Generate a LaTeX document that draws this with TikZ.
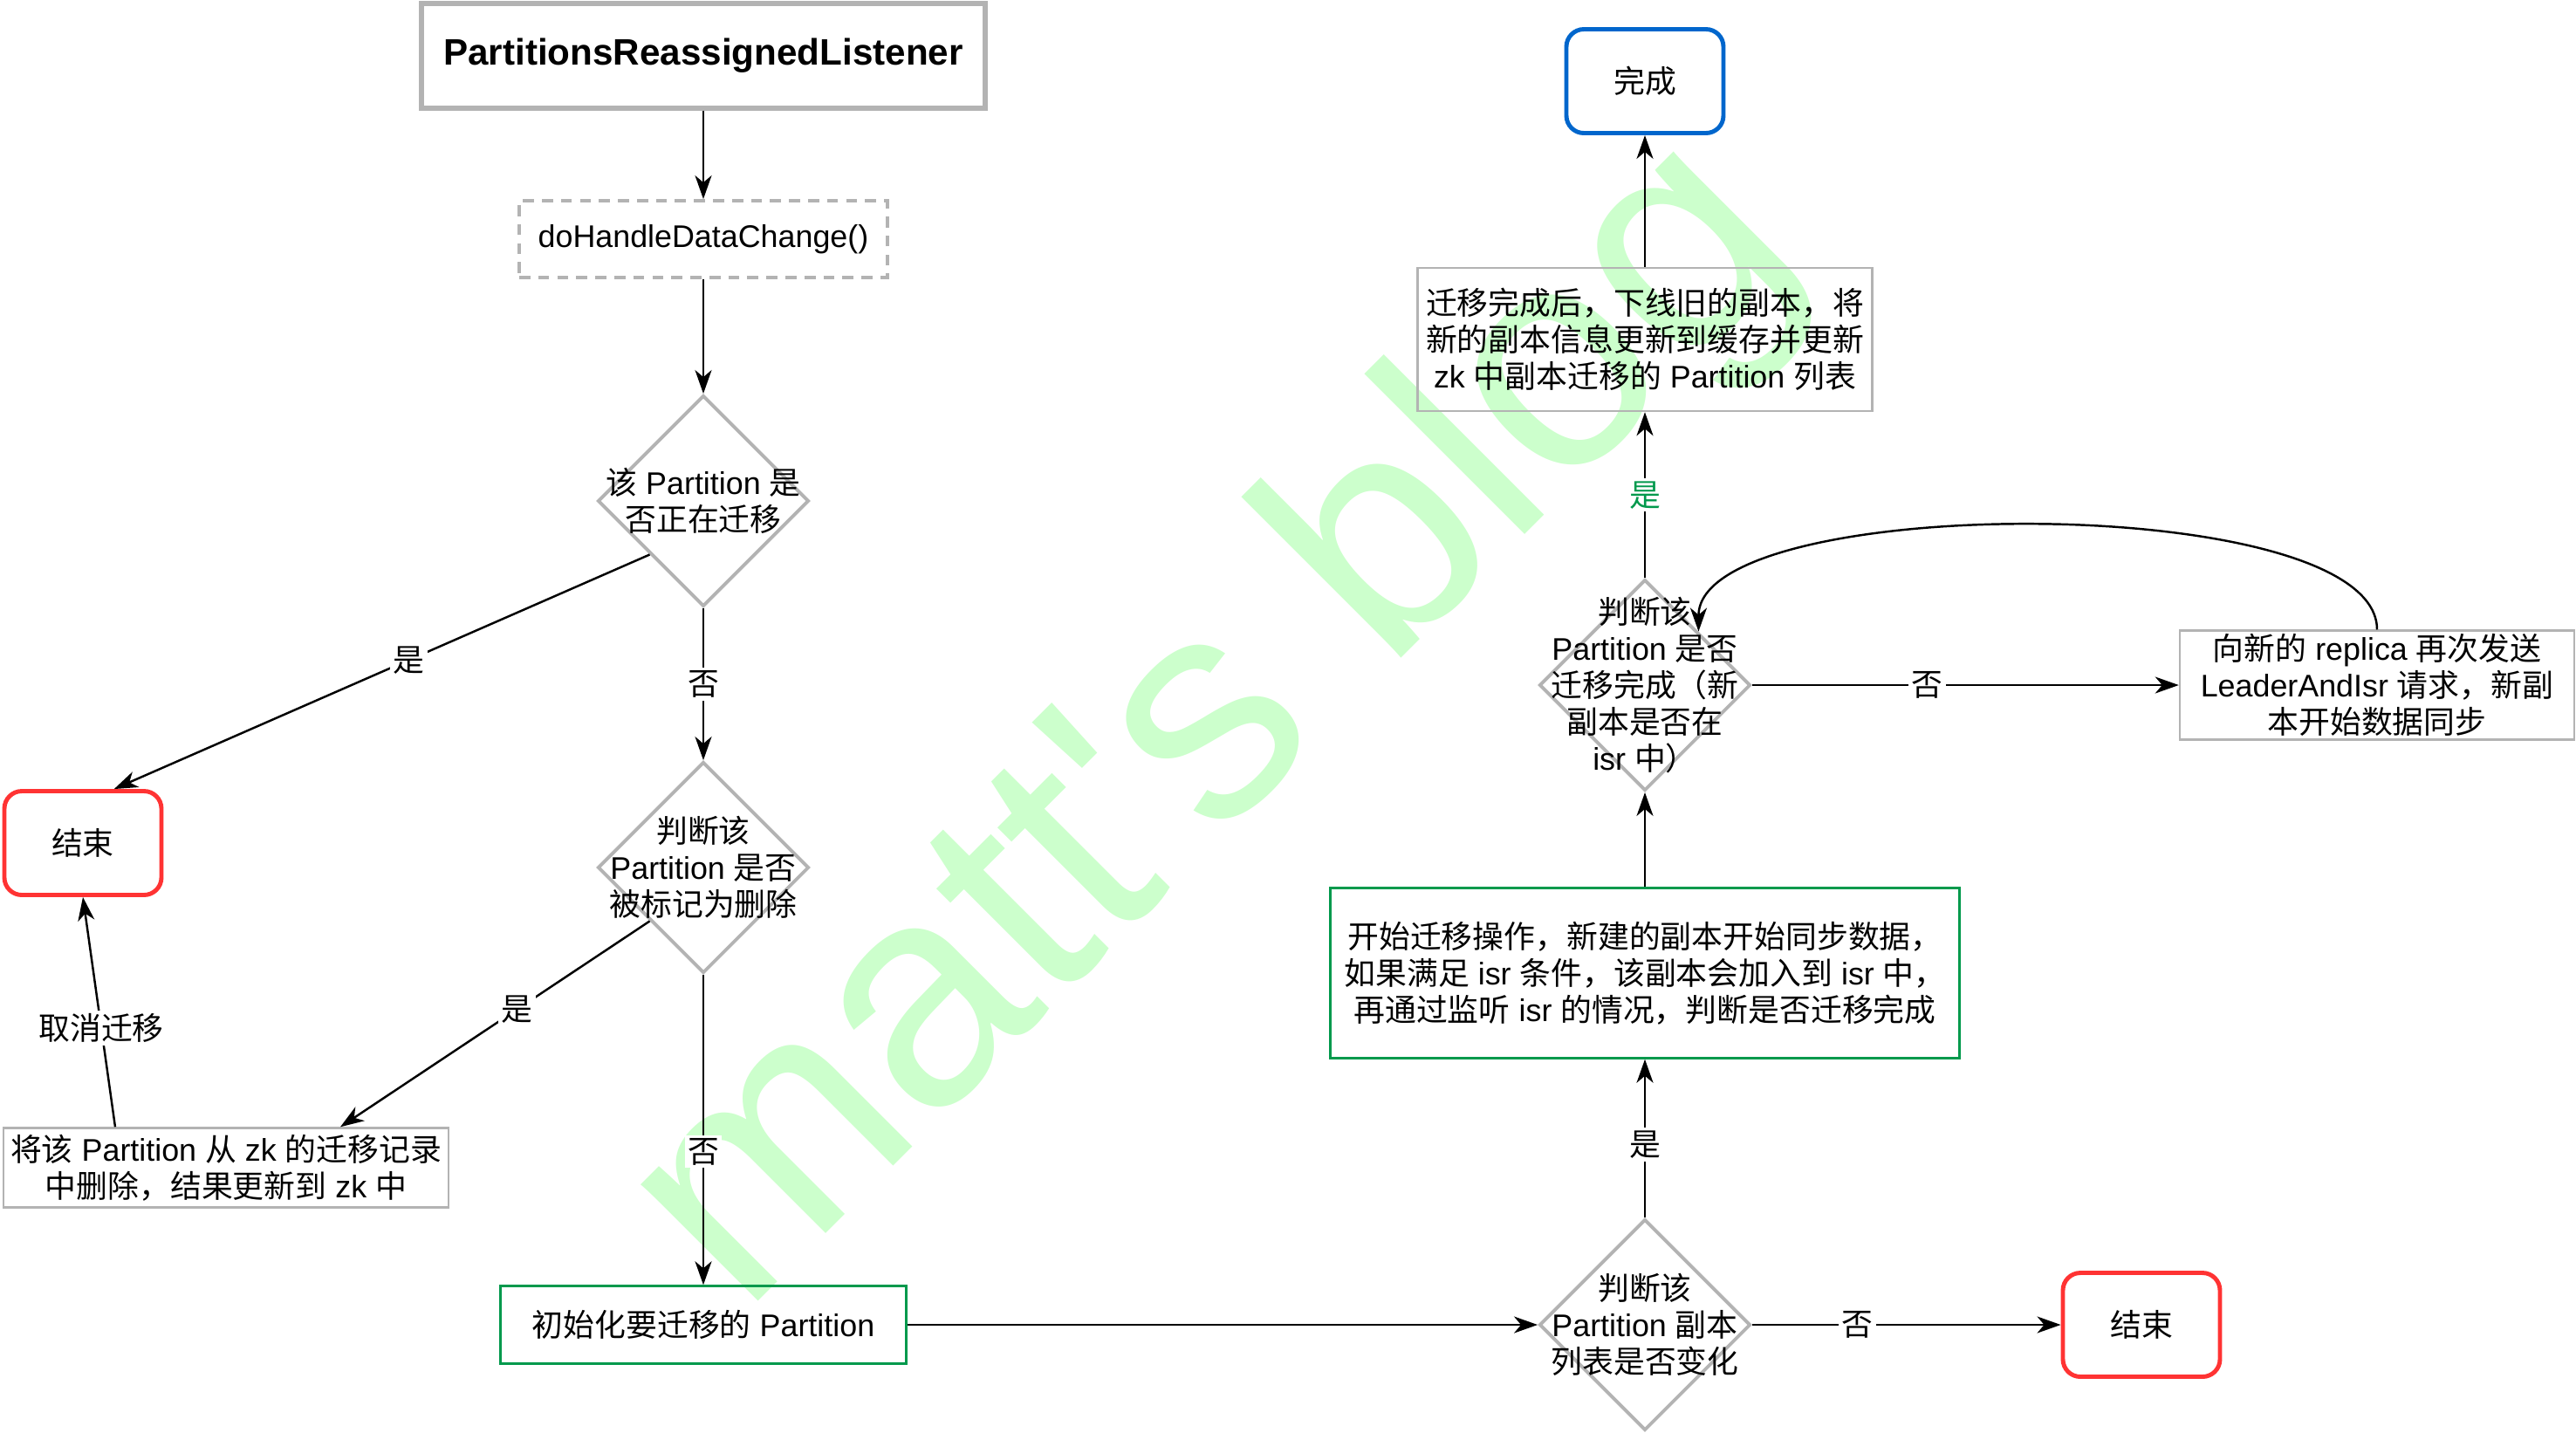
\documentclass[tikz,border=0pt]{standalone}
\usepackage{fontspec}
\setmainfont{Liberation Sans}
\newfontfamily\cjkfont{Noto Sans CJK SC}
\usepackage{tikz}
\usetikzlibrary{arrows.meta, positioning, shapes.geometric}
\usepackage{xcolor}

% Chinese characters are set in the CJK font
\XeTeXinterchartokenstate=1
\newXeTeXintercharclass\cjkclass
\newcount\cjkcnt
\cjkcnt="3000 \loop\ifnum\cjkcnt<"3040 \XeTeXcharclass\cjkcnt=\cjkclass \advance\cjkcnt by 1 \repeat
\cjkcnt="4E00 \loop\ifnum\cjkcnt<"A000 \XeTeXcharclass\cjkcnt=\cjkclass \advance\cjkcnt by 1 \repeat
\cjkcnt="FF00 \loop\ifnum\cjkcnt<"FFF0 \XeTeXcharclass\cjkcnt=\cjkclass \advance\cjkcnt by 1 \repeat
\XeTeXinterchartoks 0 \cjkclass = {\begingroup\cjkfont}
\XeTeXinterchartoks 4095 \cjkclass = {\begingroup\cjkfont}
\XeTeXinterchartoks \cjkclass 0 = {\endgroup}
\XeTeXinterchartoks \cjkclass 4095 = {\endgroup}

\definecolor{boxgray}{RGB}{179,179,179}
\definecolor{endred}{RGB}{255,51,51}
\definecolor{doneblue}{RGB}{0,102,204}
\definecolor{okgreen}{RGB}{0,153,76}
\definecolor{wmgreen}{RGB}{204,255,204}

\tikzset{
  titlebox/.style={draw=boxgray, line width=1.9pt, minimum width=6.46cm, minimum height=1.2cm,
                   font=\fontsize{12pt}{14pt}\selectfont\bfseries},
  dashbox/.style={draw=boxgray, line width=1.1pt, dash pattern=on 3.6pt off 2.6pt,
                  minimum width=4.22cm, minimum height=0.88cm},
  graybox/.style={draw=boxgray, line width=0.7pt, align=center, inner sep=1pt},
  greenbox/.style={draw=okgreen, line width=0.7pt, align=center, inner sep=1pt},
  endbox/.style={draw=#1, line width=1.4pt, rounded corners=0.2cm,
                 minimum width=1.8cm, minimum height=1.19cm},
  decide/.style={draw=boxgray, line width=1.1pt, diamond, inner sep=0pt,
                 minimum width=2.42cm, minimum height=2.42cm},
  dtext/.style={align=center, inner sep=0pt},
  lbl/.style={fill=white, inner sep=1pt},
  arr/.style={-{Stealth[length=0.27cm, width=0.19cm, inset=0.08cm]}, line width=0.7pt},
  wm/.style={text=wmgreen, font=\fontsize{102pt}{102pt}\selectfont, inner sep=0pt}
}

\begin{document}
\begin{tikzpicture}[font=\fontsize{10.2pt}{12pt}\selectfont]
  \useasboundingbox (0,0) rectangle (29.52,-16.41);
  % watermark
  \node[wm, anchor=base, rotate=45] (mark) at (14.6,-9.0) {matt\textquotesingle s blog};

  % left column
  \node[titlebox] (listen) at (8.06,-0.64) {PartitionsReassignedListener};
  \node[dashbox] (handle) at (8.06,-2.74) {doHandleDataChange()};
  \node[decide] (moving) at (8.06,-5.74) {};
  \node[dtext] (movingt) at (moving) {该 Partition 是\\否正在迁移};
  \node[decide] (marked) at (8.06,-9.94) {};
  \node[dtext] (markedt) at (marked) {判断该\\Partition 是否\\被标记为删除};
  \node[endbox=endred] (endL) at (0.95,-9.66) {结束};
  \node[graybox, minimum width=5.1cm, minimum height=0.91cm] (remove) at (2.59,-13.38)
    {将该 Partition 从 zk 的迁移记录\\中删除，结果更新到 zk 中};
  \node[greenbox, minimum width=4.65cm, minimum height=0.89cm] (init) at (8.06,-15.18)
    {初始化要迁移的 Partition};

  % right column
  \node[decide] (changed) at (18.85,-15.18) {};
  \node[dtext] (changedt) at (changed) {判断该\\Partition 副本\\列表是否变化};
  \node[endbox=endred] (endR) at (24.54,-15.18) {结束};
  \node[greenbox, minimum width=7.21cm, minimum height=1.95cm] (start) at (18.85,-11.15)
    {开始迁移操作，新建的副本开始同步数据，\\如果满足 isr 条件，该副本会加入到 isr 中，\\再通过监听 isr 的情况，判断是否迁移完成};
  \node[decide] (check) at (18.85,-7.85) {};
  \node[dtext] (checkt) at (check) {判断该\\Partition 是否\\迁移完成（新\\副本是否在\\isr 中）};
  \node[graybox, minimum width=4.52cm, minimum height=1.2cm] (resend) at (27.24,-7.85)
    {向新的 replica 再次发送\\LeaderAndIsr 请求，新副\\本开始数据同步};
  \node[graybox, minimum width=5.21cm, minimum height=1.64cm] (after) at (18.85,-3.89)
    {迁移完成后，下线旧的副本，将\\新的副本信息更新到缓存并更新\\zk 中副本迁移的 Partition 列表};
  \node[endbox=doneblue] (done) at (18.85,-0.93) {完成};

  % connectors
  \draw[arr] (listen) -- (handle);
  \draw[arr] (handle) -- (moving);
  \draw[arr] (moving.south west) -- node[lbl, pos=0.45] (yes1) {是} (endL.60);
  \draw[arr] (moving) -- node[lbl] (no1) {否} (marked);
  \draw[arr] (marked.south west) -- node[lbl, pos=0.43] (yes2) {是} ([xshift=1.31cm]remove.north);
  \draw[arr] ([xshift=-1.27cm]remove.north) -- node[lbl, pos=0.43] (cancel) {取消迁移} (endL.south);
  \draw[arr] (marked) -- node[lbl, pos=0.57] (no2) {否} (init);
  \draw[arr] (init) -- (changed);
  \draw[arr] (changed) -- node[lbl, pos=0.34] (no3) {否} (endR);
  \draw[arr] (changed) -- node[lbl, pos=0.46] (yes3) {是} (start);
  \draw[arr] (start) -- (check);
  \draw[arr] (check) -- node[lbl, pos=0.41] (no4) {否} (resend);
  \draw[arr] (resend.north) .. controls +(0,1.6) and +(0,1.6) .. (check.north east);
  \draw[arr] (check) -- node[lbl, text=okgreen] (yes4) {是} (after);
  \draw[arr] (after) -- (done);
\end{tikzpicture}
\end{document}
